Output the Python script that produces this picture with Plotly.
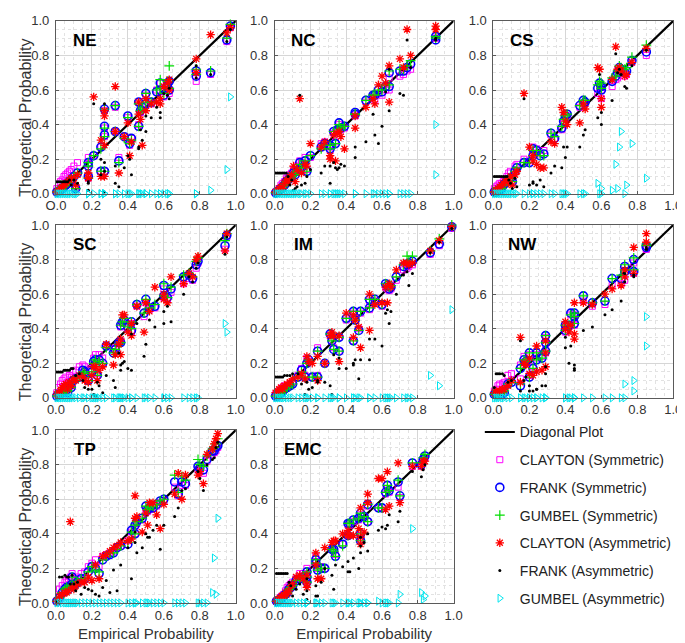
import plotly.graph_objects as go

# ---------------- data ----------------
regions = ['NE', 'NC', 'CS', 'SC', 'IM', 'NW', 'TP', 'EMC']
diag = [0.0, 1.0]

ne_emp = [0.005, 0.015, 0.025, 0.035, 0.045, 0.055, 0.065, 0.075, 0.085, 0.10, 0.11, 0.12,
          0.18, 0.18, 0.18, 0.21, 0.25, 0.25, 0.27, 0.27, 0.27, 0.27, 0.33, 0.33, 0.35, 0.38,
          0.40, 0.41, 0.42, 0.46, 0.46, 0.47, 0.48, 0.50, 0.50, 0.53, 0.56, 0.58, 0.58, 0.60,
          0.62, 0.63, 0.63, 0.78, 0.78, 0.86, 0.95, 0.97]
ne_cs = [.03, .05, .07, .08, .10, .11, .12, .13, .14, .16, .04, .18, .21, .17, .09, .22, .27, .13,
         .48, .38, .33, .13, .50, .36, .21, .33, .44, .28, .32, .53, .40, .47, .49, .57, .51, .52,
         .60, .64, .59, .56, .64, .60, .58, .70, .65, .69, .88, .96]
ne_fs = [.01, .015, .02, .03, .04, .05, .06, .07, .08, .10, .03, .12, .18, .16, .10, .22, .27, .13,
         .49, .39, .34, .13, .51, .36, .19, .33, .45, .29, .32, .53, .39, .48, .50, .58, .52, .53,
         .59, .64, .60, .57, .63, .65, .60, .71, .68, .70, .89, .97]
ne_gs = [.01, .02, .025, .035, .045, .05, .065, .075, .085, .10, .03, .12, .18, .16, .09, .22, .26,
         .13, .49, .38, .33, .13, .51, .36, .18, .32, .44, .29, .31, .52, .39, .48, .49, .58, .53,
         .53, .60, .66, .61, .58, .65, .74, .61, .72, .69, .71, .90, .98]
ne_ca = [.01, .02, .03, .04, .05, .06, .07, .08, .09, .09, .05, .11, .12, .09, .09, .56, .31, .10,
         .48, .45, .28, .10, .62, .36, .12, .33, .41, .22, .30, .53, .46, .43, .28, .55, .48, .52,
         .53, .55, .52, .62, .64, .66, .60, .78, .70, .92, .93, .96]
ne_fa = [.07, .07, .07, .07, .07, .07, .07, .08, .05, .08, .02, .06, .06, .02, .07, .52, .20, .11,
         .52, .18, .13, .01, .16, .06, .04, .15, .22, .20, .11, .27, .26, .37, .31, .36, .45, .44,
         .50, .47, .44, .58, .57, .61, .55, .74, .67, .69, .88, .95]
ne_ga = [0, 0, 0, 0, 0, 0, 0, 0, 0, 0, 0, 0, 0, 0, 0, 0, 0, 0, 0, 0, 0, 0, 0, 0,
         0, 0, 0, 0, 0, 0, 0, 0, 0, 0, 0, 0, 0, 0, 0, 0, 0, 0, 0, 0, 0, .02, .14, .56]

nc_emp = [0.005, 0.015, 0.025, 0.035, 0.045, 0.055, 0.065, 0.075, 0.085, 0.095, 0.105, 0.115,
          0.125, 0.14, 0.15, 0.17, 0.18, 0.20, 0.26, 0.28, 0.31, 0.31, 0.33, 0.34, 0.35, 0.36,
          0.37, 0.39, 0.45, 0.45, 0.51, 0.55, 0.56, 0.58, 0.60, 0.62, 0.64, 0.64, 0.70, 0.72,
          0.74, 0.76, 0.90, 0.90]
nc_cs = [.01, .02, .03, .05, .06, .07, .09, .10, .11, .12, .14, .13, .16, .19, .18, .21, .14, .21,
         .29, .30, .27, .25, .35, .30, .36, .40, .37, .38, .46, .45, .53, .56, .54, .58, .57, .60,
         .67, .60, .68, .69, .71, .72, .90, .90]
nc_fs = [.005, .01, .02, .03, .04, .05, .07, .08, .09, .10, .12, .11, .13, .18, .15, .19, .13, .22,
         .27, .29, .28, .26, .36, .29, .37, .41, .38, .39, .47, .46, .54, .57, .57, .60, .59, .62,
         .70, .62, .71, .71, .73, .75, .91, .89]
nc_gs = [.005, .01, .02, .03, .04, .05, .07, .08, .09, .10, .12, .11, .13, .17, .15, .19, .13, .22,
         .26, .28, .28, .26, .36, .29, .37, .40, .38, .39, .46, .46, .54, .57, .57, .60, .60, .63,
         .71, .63, .72, .72, .74, .77, .91, .90]
nc_ca = [.01, .02, .03, .04, .03, .06, .08, .07, .10, .11, .16, .07, .14, .55, .12, .17, .16, .29,
         .27, .30, .22, .20, .34, .19, .35, .36, .33, .26, .45, .38, .50, .55, .52, .63, .68, .64,
         .74, .53, .78, .73, .95, .80, .97, .95]
nc_fa = [.12, .12, .12, .12, .12, .12, .12, .10, .05, .08, .02, .03, .04, .57, .05, .06, .10, .14,
         .12, .16, .16, .06, .18, .15, .14, .15, .17, .16, .27, .21, .30, .46, .34, .29, .39, .59,
         .72, .48, .58, .57, .89, .73, .89, .90]
nc_ga = [0, 0, 0, 0, 0, 0, 0, 0, 0, 0, 0, 0, 0, 0, 0, 0, 0, 0, 0, 0, 0, 0,
         0, 0, 0, 0, 0, 0, 0, 0, 0, 0, 0, 0, 0, 0, 0, 0, 0, 0, 0, 0, .40, .11]

cs_emp = [0.005, 0.015, 0.025, 0.035, 0.045, 0.055, 0.065, 0.075, 0.085, 0.095, 0.105, 0.12,
          0.13, 0.17, 0.20, 0.22, 0.22, 0.24, 0.26, 0.28, 0.32, 0.34, 0.38, 0.39, 0.40, 0.41,
          0.48, 0.50, 0.51, 0.58, 0.59, 0.60, 0.60, 0.66, 0.68, 0.69, 0.70, 0.71, 0.73, 0.74,
          0.77, 0.85]
cs_cs = [.03, .04, .05, .06, .06, .07, .08, .10, .12, .13, .09, .16, .17, .20, .19, .27, .23, .26,
         .23, .25, .34, .32, .37, .41, .44, .45, .50, .52, .52, .58, .62, .60, .55, .62, .66, .67,
         .71, .70, .68, .69, .76, .80]
cs_fs = [.01, .01, .02, .02, .03, .05, .06, .07, .08, .09, .07, .13, .15, .18, .18, .26, .22, .25,
         .22, .23, .35, .32, .38, .42, .45, .46, .51, .54, .53, .61, .64, .62, .60, .65, .68, .70,
         .73, .72, .70, .71, .77, .82]
cs_gs = [.01, .01, .02, .03, .03, .05, .06, .07, .09, .09, .07, .13, .15, .18, .18, .25, .22, .25,
         .22, .22, .35, .33, .39, .43, .45, .46, .51, .54, .54, .63, .65, .64, .61, .67, .68, .71,
         .74, .73, .72, .73, .79, .86]
cs_ca = [.01, .02, .03, .04, .05, .06, .07, .08, .06, .10, .05, .11, .13, .58, .27, .22, .19, .17,
         .15, .15, .30, .29, .50, .47, .42, .40, .41, .52, .49, .73, .72, .55, .50, .66, .85, .72,
         .73, .71, .68, .69, .76, .84]
cs_fa = [.10, .10, .10, .10, .10, .10, .10, .10, .08, .06, .03, .09, .04, .55, .05, .06, .07, .05,
         .08, .04, .12, .16, .15, .27, .21, .27, .27, .34, .37, .44, .69, .40, .47, .54, .81, .70,
         .72, .69, .62, .61, .74, .83]
cs_ga = [0, 0, 0, 0, 0, 0, 0, 0, 0, 0, 0, 0, 0, 0, 0, 0, 0, 0, 0, 0, 0, 0, 0, 0, 0, 0,
         0, 0, 0, .06, 0, .03, 0, .02, .17, .03, .27, .36, 0, .05, .29, .09]

sc_emp = [0.005, 0.015, 0.025, 0.035, 0.045, 0.055, 0.065, 0.075, 0.085, 0.095, 0.11, 0.13,
          0.15, 0.16, 0.18, 0.20, 0.21, 0.22, 0.23, 0.24, 0.26, 0.28, 0.32, 0.33, 0.35, 0.36,
          0.36, 0.37, 0.38, 0.40, 0.42, 0.42, 0.45, 0.49, 0.50, 0.52, 0.55, 0.60, 0.60, 0.62,
          0.64, 0.71, 0.74, 0.76, 0.78, 0.79, 0.94, 0.95]
sc_cs = [.03, .06, .08, .10, .11, .12, .09, .13, .12, .15, .16, .18, .19, .18, .12, .17, .23, .25,
         .14, .25, .23, .30, .28, .29, .32, .41, .33, .43, .44, .40, .43, .38, .53, .47, .55, .51,
         .52, .63, .58, .57, .61, .66, .69, .68, .75, .78, .86, .93]
sc_fs = [.01, .02, .02, .03, .04, .04, .03, .07, .06, .10, .11, .12, .16, .15, .10, .15, .21, .22,
         .13, .22, .20, .30, .26, .28, .32, .42, .32, .44, .45, .41, .44, .39, .54, .49, .57, .52,
         .53, .65, .59, .58, .63, .70, .71, .69, .77, .79, .88, .94]
sc_gs = [.01, .02, .03, .03, .04, .05, .04, .07, .06, .10, .11, .12, .15, .14, .10, .15, .20, .22,
         .13, .21, .20, .29, .26, .28, .31, .42, .32, .44, .46, .41, .44, .40, .54, .49, .57, .52,
         .54, .66, .59, .58, .64, .71, .72, .70, .79, .81, .91, .95]
sc_ca = [.02, .03, .04, .06, .07, .08, .05, .09, .07, .11, .10, .13, .12, .10, .09, .13, .18, .18,
         .10, .16, .18, .31, .19, .25, .31, .34, .25, .48, .48, .38, .36, .43, .53, .38, .55, .50,
         .64, .60, .57, .55, .70, .66, .72, .70, .80, .82, .85, .95]
sc_fa = [.15, .15, .15, .15, .16, .16, .16, .16, .17, .17, .13, .14, .10, .06, .05, .05, .02, .01,
         .09, .07, .03, .13, .10, .06, .26, .16, .19, .20, .21, .17, .16, .37, .43, .24, .31, .45,
         .41, .43, .50, .53, .44, .60, .70, .67, .75, .78, .83, .93]
sc_ga = [0, 0, 0, 0, 0, 0, 0, 0, 0, 0, 0, 0, 0, 0, 0, 0, 0, 0, 0, 0, 0, 0, 0, 0,
         0, 0, 0, 0, 0, 0, 0, 0, 0, 0, 0, 0, 0, 0, 0, 0, 0, 0, 0, 0, 0, 0, .43, .38]

im_emp = [0.005, 0.015, 0.025, 0.035, 0.045, 0.055, 0.07, 0.085, 0.10, 0.13, 0.15, 0.17, 0.18,
          0.19, 0.21, 0.24, 0.24, 0.28, 0.31, 0.32, 0.33, 0.36, 0.36, 0.40, 0.44, 0.44, 0.45,
          0.47, 0.48, 0.53, 0.53, 0.56, 0.60, 0.62, 0.63, 0.64, 0.65, 0.68, 0.72, 0.74, 0.75,
          0.77, 0.87, 0.92, 0.99]
im_cs = [.02, .03, .04, .05, .06, .07, .07, .08, .09, .13, .17, .13, .23, .21, .12, .29, .13, .20,
         .36, .33, .29, .35, .27, .45, .49, .33, .45, .40, .49, .56, .51, .56, .53, .64, .63, .62,
         .63, .68, .74, .75, .76, .77, .83, .88, .98]
im_fs = [.01, .01, .02, .03, .04, .05, .06, .07, .08, .12, .16, .12, .20, .22, .12, .27, .12, .20,
         .37, .33, .28, .35, .27, .46, .50, .33, .45, .39, .50, .57, .52, .57, .54, .66, .65, .63,
         .64, .70, .76, .77, .78, .79, .84, .89, .99]
im_gs = [.01, .01, .02, .03, .04, .05, .06, .07, .08, .12, .15, .12, .20, .22, .12, .27, .12, .20,
         .37, .33, .28, .35, .27, .46, .50, .33, .45, .39, .50, .57, .52, .57, .54, .66, .65, .64,
         .65, .70, .77, .82, .79, .82, .85, .92, 1.0]
im_ca = [.03, .04, .05, .06, .05, .07, .08, .09, .11, .12, .14, .11, .24, .21, .20, .24, .10, .20,
         .36, .38, .36, .36, .21, .49, .48, .35, .45, .41, .29, .60, .39, .54, .55, .64, .55, .66,
         .64, .74, .78, .78, .77, .78, .85, .91, .99]
im_fa = [.12, .12, .12, .12, .12, .13, .13, .13, .14, .14, .08, .02, .09, .05, .06, .09, .10, .09,
         .07, .02, .25, .23, .17, .17, .20, .19, .22, .11, .22, .34, .22, .34, .30, .49, .51, .43,
         .50, .60, .71, .73, .65, .72, .84, .90, .98]
im_ga = [0, 0, 0, 0, 0, 0, 0, 0, 0, 0, 0, 0, 0, 0, 0, 0, 0, 0, 0, 0, 0, 0, 0,
         0, 0, 0, 0, 0, 0, 0, 0, 0, 0, 0, 0, 0, 0, 0, 0, 0, 0, 0, .13, .07, .51]

nw_emp = [0.005, 0.015, 0.025, 0.035, 0.05, 0.06, 0.08, 0.10, 0.15, 0.15, 0.17, 0.18, 0.20,
          0.20, 0.22, 0.24, 0.24, 0.27, 0.29, 0.29, 0.29, 0.40, 0.40, 0.42, 0.43, 0.45, 0.45,
          0.45, 0.50, 0.55, 0.62, 0.66, 0.71, 0.73, 0.73, 0.78, 0.78, 0.85, 0.85]
nw_cs = [.04, .05, .07, .08, .08, .09, .13, .14, .19, .11, .24, .20, .25, .13, .18, .25, .23, .24,
         .35, .31, .26, .41, .38, .41, .48, .48, .46, .42, .56, .53, .54, .65, .66, .73, .68, .78,
         .72, .86, .86]
nw_fs = [.02, .02, .02, .02, .02, .03, .08, .09, .17, .07, .22, .21, .26, .12, .17, .26, .22, .23,
         .36, .32, .27, .42, .39, .42, .49, .49, .47, .43, .59, .55, .56, .69, .69, .76, .73, .80,
         .73, .88, .87]
nw_gs = [.02, .02, .02, .03, .03, .04, .08, .09, .17, .08, .22, .21, .26, .12, .17, .26, .22, .23,
         .36, .32, .27, .42, .39, .42, .48, .49, .47, .43, .59, .55, .56, .69, .71, .77, .74, .81,
         .74, .89, .88]
nw_ca = [.03, .04, .03, .04, .05, .05, .07, .10, .35, .09, .20, .19, .23, .14, .13, .30, .15, .16,
         .33, .26, .18, .44, .40, .38, .42, .55, .37, .34, .55, .54, .60, .63, .65, .74, .70, .87,
         .72, .95, .90]
nw_fa = [.06, .14, .14, .14, .14, .13, .09, .10, .33, .04, .10, .12, .07, .04, .04, .05, .05, .07,
         .18, .14, .07, .35, .29, .20, .30, .19, .17, .16, .39, .41, .48, .51, .56, .72, .67, .71,
         .70, .87, .86]
nw_ga = [0, 0, 0, 0, 0, 0, 0, 0, 0, 0, 0, 0, 0, 0, 0, 0, 0, 0, 0, 0,
         0, 0, 0, 0, 0, 0, 0, 0, 0, 0, 0, 0, 0, .08, 0, .10, .04, .47, .30]

tp_emp = [0.005, 0.02, 0.035, 0.05, 0.06, 0.07, 0.08, 0.09, 0.10, 0.11, 0.12, 0.14, 0.16, 0.18,
          0.20, 0.22, 0.24, 0.26, 0.28, 0.30, 0.32, 0.34, 0.36, 0.40, 0.42, 0.44, 0.44, 0.45,
          0.48, 0.50, 0.51, 0.52, 0.54, 0.56, 0.58, 0.60, 0.66, 0.68, 0.70, 0.72, 0.79, 0.80,
          0.82, 0.84, 0.87, 0.88, 0.89, 0.90]
tp_cs = [.01, .08, .10, .12, .13, .14, .15, .17, .13, .14, .15, .17, .18, .21, .23, .25, .21, .27,
         .28, .29, .30, .32, .33, .36, .41, .44, .40, .46, .48, .54, .53, .54, .55, .56, .58, .59,
         .67, .62, .68, .68, .77, .76, .75, .82, .86, .87, .88, .90]
tp_fs = [.01, .03, .06, .08, .09, .08, .10, .15, .10, .11, .12, .14, .14, .18, .21, .20, .17, .25,
         .27, .28, .29, .32, .33, .34, .42, .45, .40, .47, .49, .56, .54, .55, .55, .57, .59, .60,
         .70, .63, .70, .69, .79, .78, .77, .83, .88, .88, .90, .91]
tp_gs = [.01, .03, .06, .08, .09, .08, .10, .15, .10, .11, .12, .14, .14, .18, .21, .19, .18, .25,
         .27, .29, .29, .31, .33, .35, .41, .45, .40, .47, .49, .56, .54, .55, .56, .57, .59, .60,
         .74, .64, .73, .71, .83, .80, .79, .85, .89, .90, .92, .95]
tp_ca = [.01, .04, .05, .06, .06, .07, .47, .09, .08, .10, .11, .12, .12, .15, .13, .22, .14, .27,
         .28, .30, .32, .33, .35, .36, .37, .49, .62, .50, .41, .52, .45, .58, .58, .51, .43, .57,
         .63, .75, .60, .74, .74, .76, .69, .86, .89, .92, .95, .98]
tp_fa = [.01, .15, .15, .16, .15, .15, .11, .16, .11, .07, .12, .05, .09, .08, .07, .05, .04, .09,
         .13, .06, .19, .07, .22, .32, .14, .41, .35, .29, .32, .40, .38, .38, .42, .45, .31, .45,
         .50, .55, .65, .66, .76, .72, .65, .80, .83, .84, .90, .93]
tp_ga = [0, 0, 0, 0, 0, 0, 0, 0, 0, 0, 0, 0, 0, 0, 0, 0, 0, 0, 0, 0, 0, 0, 0, 0,
         0, 0, 0, 0, 0, 0, 0, 0, 0, 0, 0, 0, 0, 0, 0, 0, 0, 0, 0, 0, .06, .26, .05, .49]

emc_emp = [0.01, 0.02, 0.03, 0.04, 0.05, 0.06, 0.07, 0.08, 0.09, 0.10, 0.12, 0.14, 0.16, 0.18,
           0.18, 0.18, 0.23, 0.23, 0.24, 0.26, 0.28, 0.32, 0.33, 0.34, 0.38, 0.41, 0.41, 0.42,
           0.44, 0.47, 0.48, 0.48, 0.48, 0.50, 0.52, 0.52, 0.58, 0.60, 0.62, 0.63, 0.64, 0.69,
           0.70, 0.77, 0.82, 0.83, 0.84]
emc_cs = [.01, .02, .03, .04, .05, .07, .09, .10, .11, .12, .14, .17, .17, .20, .16, .13, .27, .24,
          .20, .21, .20, .31, .30, .28, .34, .45, .39, .45, .47, .48, .51, .39, .37, .50, .56, .47,
          .55, .55, .63, .66, .64, .67, .61, .79, .79, .82, .84]
emc_fs = [.01, .01, .02, .03, .04, .05, .06, .08, .09, .10, .13, .14, .15, .18, .15, .12, .25, .23,
          .19, .20, .20, .31, .31, .27, .34, .46, .39, .46, .48, .49, .52, .40, .36, .50, .57, .47,
          .55, .55, .64, .68, .65, .70, .62, .81, .80, .83, .85]
emc_gs = [.01, .01, .02, .03, .04, .05, .06, .08, .09, .10, .13, .14, .15, .18, .15, .12, .25, .23,
          .19, .20, .20, .31, .30, .27, .33, .46, .39, .46, .48, .49, .52, .40, .36, .50, .57, .47,
          .55, .55, .64, .68, .65, .71, .62, .81, .81, .84, .86]
emc_ca = [.01, .02, .03, .04, .04, .06, .05, .07, .10, .11, .15, .16, .14, .16, .11, .09, .29, .22,
          .14, .14, .32, .35, .36, .36, .40, .42, .39, .39, .39, .43, .55, .38, .34, .41, .63, .58,
          .72, .72, .54, .76, .56, .81, .58, .79, .79, .82, .82]
emc_fa = [.17, .17, .17, .17, .17, .17, .17, .12, .10, .04, .08, .11, .05, .14, .07, .02, .10, .04,
          .04, .12, .20, .16, .08, .22, .21, .24, .18, .18, .26, .20, .38, .33, .29, .35, .30, .40,
          .42, .44, .43, .45, .51, .47, .53, .76, .73, .77, .80]
emc_ga = [0, 0, 0, 0, 0, 0, 0, 0, 0, 0, 0, 0, 0, 0, 0, 0, 0, 0, 0, 0, 0, 0, 0, 0,
          0, 0, 0, 0, 0, 0, 0, 0, 0, 0, 0, 0, .01, 0, 0, 0, 0, 0, .05, .43, .06, .02, .04]

tick_vals = [0, 0.2, 0.4, 0.6, 0.8, 1.0]
tick_text = ['0.0', '0.2', '0.4', '0.6', '0.8', '1.0']

# per region: empirical x, then the six theoretical series in plotting order
panels = {
    'NE': (ne_emp, [ne_cs, ne_fs, ne_gs, ne_ca, ne_fa, ne_ga]),
    'NC': (nc_emp, [nc_cs, nc_fs, nc_gs, nc_ca, nc_fa, nc_ga]),
    'CS': (cs_emp, [cs_cs, cs_fs, cs_gs, cs_ca, cs_fa, cs_ga]),
    'SC': (sc_emp, [sc_cs, sc_fs, sc_gs, sc_ca, sc_fa, sc_ga]),
    'IM': (im_emp, [im_cs, im_fs, im_gs, im_ca, im_fa, im_ga]),
    'NW': (nw_emp, [nw_cs, nw_fs, nw_gs, nw_ca, nw_fa, nw_ga]),
    'TP': (tp_emp, [tp_cs, tp_fs, tp_gs, tp_ca, tp_fa, tp_ga]),
    'EMC': (emc_emp, [emc_cs, emc_fs, emc_gs, emc_ca, emc_fa, emc_ga]),
}

# ---------------- styling ----------------
series = [
    ('CLAYTON (Symmetric)', dict(symbol='square-open', size=6, color='#ff00ff', line=dict(width=1))),
    ('FRANK (Symmetric)', dict(symbol='circle-open', size=8, color='#0000ff', line=dict(width=1.6))),
    ('GUMBEL (Symmetric)', dict(symbol='cross-thin-open', size=7, color='#00dd00', line=dict(width=1.2, color='#00dd00'))),
    ('CLAYTON (Asymmetric)', dict(symbol='asterisk-open', size=7, color='#ff0000', line=dict(width=1.3, color='#ff0000'))),
    ('FRANK (Asymmetric)', dict(symbol='circle', size=3, color='#000000')),
    ('GUMBEL (Asymmetric)', dict(symbol='triangle-right-open', size=7, color='#00e5ee', line=dict(width=1))),
]

FONT = 'Liberation Sans, Arial, sans-serif'
W, H = 685, 643
COLS = [(39, 224), (264, 448), (489, 674)]
ROWS = [(6, 183), (215, 392), (425, 602)]

fig = go.Figure()
layout = {}
annotations = []

for i, reg in enumerate(regions):
    r, c = divmod(i, 3)
    sfx = '' if i == 0 else str(i + 1)
    xa, ya = 'x' + sfx, 'y' + sfx
    emp, ys = panels[reg]

    fig.add_trace(go.Scatter(
        x=diag, y=diag, mode='lines', xaxis=xa, yaxis=ya,
        line=dict(color='black', width=2.2),
        name='Diagonal Plot', legendgroup='diag', showlegend=(i == 0)
    ))
    for (name, mk), yv in zip(series, ys):
        fig.add_trace(go.Scatter(
            x=emp, y=yv, mode='markers', xaxis=xa, yaxis=ya,
            marker=mk, name=name, legendgroup=name, showlegend=(i == 0),
            cliponaxis=False
        ))

    xt = list(tick_text)
    yt = list(tick_text)
    if reg == 'NE':
        xt[0] = 'O.0'
    if reg == 'SC':
        yt[0] = '0'

    common = dict(
        range=[0, 1], tickvals=tick_vals, showgrid=True, gridcolor='#d6d6d6', gridwidth=1,
        minor=dict(dtick=0.05, tick0=0, showgrid=True, gridcolor='#e2e2e2', griddash='dot'),
        showline=True, linecolor='#5a5a5a', linewidth=1, mirror=True,
        ticks='inside', ticklen=3, tickcolor='#5a5a5a', zeroline=False,
        tickfont=dict(size=13, color='#333333', family=FONT),
    )
    layout['xaxis' + sfx] = dict(
        common, anchor=ya, ticktext=xt,
        domain=[COLS[c][0] / W, COLS[c][1] / W],
        title=dict(text='Empirical Probability' if r == 2 else '',
                   font=dict(size=15, color='#333333'), standoff=6),
    )
    layout['yaxis' + sfx] = dict(
        common, anchor=xa, ticktext=yt, ticklabelstandoff=3,
        domain=[1 - ROWS[r][1] / H, 1 - ROWS[r][0] / H],
    )
    annotations.append(dict(
        x=0.16, y=0.885, xref=xa, yref=ya, text='<b>%s</b>' % reg, showarrow=False,
        font=dict(size=17, color='black', family=FONT), xanchor='center', yanchor='middle'
    ))
    if c == 0:
        annotations.append(dict(
            x=7 / W, y=1 - ((ROWS[r][0] + ROWS[r][1]) / 2 + 11) / H, xref='paper', yref='paper',
            text='Theoretical Probability', textangle=-90, showarrow=False,
            font=dict(size=16, color='#333333', family=FONT), xanchor='center', yanchor='middle'
        ))

fig.update_layout(
    **layout,
    annotations=annotations,
    width=W, height=H,
    margin=dict(l=0, r=0, t=0, b=0),
    paper_bgcolor='white', plot_bgcolor='white',
    font=dict(family=FONT, color='#222222'),
    legend=dict(
        x=475 / W, y=1 - 411 / H, xanchor='left', yanchor='top',
        font=dict(size=14, color='#222222'), tracegroupgap=6.5,
        bgcolor='rgba(0,0,0,0)', itemwidth=30
    ),
)

fig.write_html("out.html")
